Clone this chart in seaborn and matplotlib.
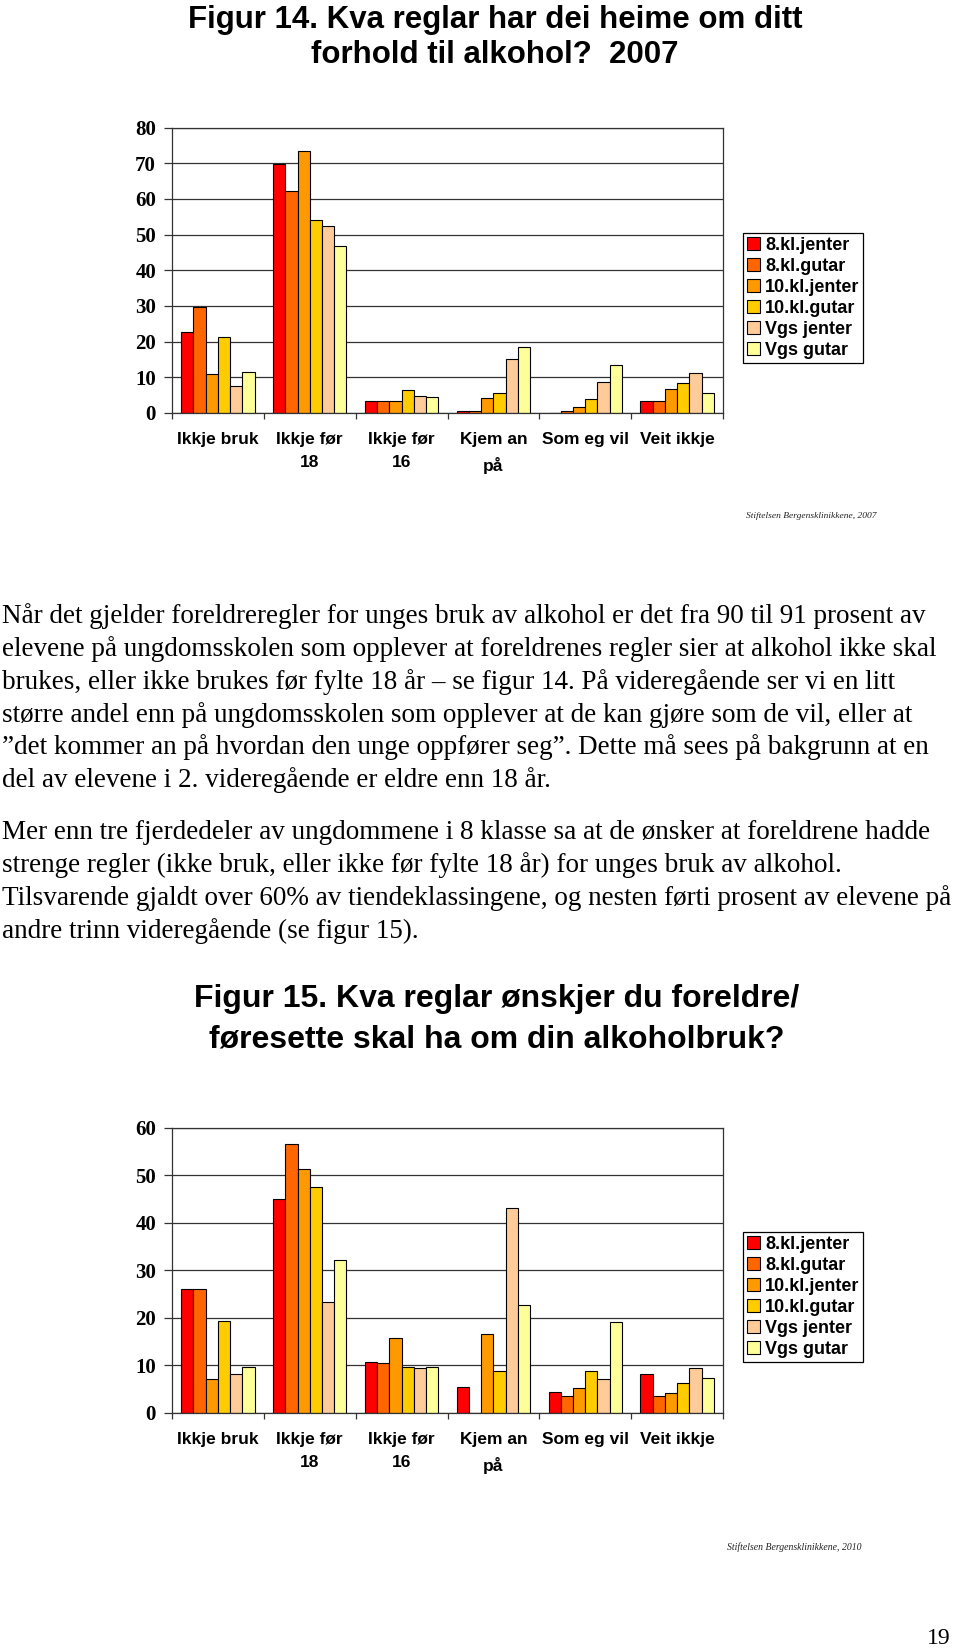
import matplotlib
matplotlib.use("Agg")
import matplotlib.pyplot as plt
import seaborn as sns
import pandas as pd
import numpy as np
from matplotlib.ticker import FixedLocator

# ---------------- data ----------------
categories = ["Ikkje bruk", "Ikkje før\n18", "Ikkje før\n16", "Kjem an\npå", "Som eg vil", "Veit ikkje"]
groups = ["8.kl.jenter", "8.kl.gutar", "10.kl.jenter", "10.kl.gutar", "Vgs jenter", "Vgs gutar"]
colors = ["#FF0000", "#FF6600", "#FF9900", "#FFCC00", "#FFCC99", "#FFFF99"]

# Figur 14 (2007)
f14_jenter8 = [22.6, 69.8, 3.3, 0.7, 0.0, 3.3]
f14_gutar8 = [29.7, 62.2, 3.3, 0.7, 0.7, 3.3]
f14_jenter10 = [10.8, 73.4, 3.3, 4.2, 1.8, 6.6]
f14_gutar10 = [21.3, 54.0, 6.5, 5.7, 3.8, 8.5]
f14_vgs_jenter = [7.6, 52.5, 4.9, 15.1, 8.7, 11.3]
f14_vgs_gutar = [11.5, 46.8, 4.6, 18.6, 13.4, 5.5]

# Figur 15
f15_jenter8 = [26.1, 44.9, 10.8, 5.5, 4.4, 8.2]
f15_gutar8 = [26.1, 56.5, 10.5, 0.0, 3.6, 3.6]
f15_jenter10 = [7.1, 51.3, 15.7, 16.5, 5.2, 4.3]
f15_gutar10 = [19.3, 47.5, 9.6, 8.9, 8.9, 6.2]
f15_vgs_jenter = [8.2, 23.3, 9.4, 43.1, 7.1, 9.4]
f15_vgs_gutar = [9.6, 32.1, 9.6, 22.6, 19.1, 7.3]

f14_yticks = [0, 10, 20, 30, 40, 50, 60, 70, 80]
f15_yticks = [0, 10, 20, 30, 40, 50, 60]

title14 = ["Figur 14. Kva reglar har dei heime om ditt", "forhold til alkohol?  2007"]
title15 = ["Figur 15. Kva reglar ønskjer du foreldre/", "føresette skal ha om din alkoholbruk?"]
source14 = "Stiftelsen Bergensklinikkene, 2007"
source15 = "Stiftelsen Bergensklinikkene, 2010"
page_no = "19"

para1 = [
    "Når det gjelder foreldreregler for unges bruk av alkohol er det fra 90 til 91 prosent av",
    "elevene på ungdomsskolen som opplever at foreldrenes regler sier at alkohol ikke skal",
    "brukes, eller ikke brukes før fylte 18 år – se figur 14. På videregående ser vi en litt",
    "større andel enn på ungdomsskolen som opplever at de kan gjøre som de vil, eller at",
    "”det kommer an på hvordan den unge oppfører seg”. Dette må sees på bakgrunn at en",
    "del av elevene i 2. videregående er eldre enn 18 år.",
]
para2 = [
    "Mer enn tre fjerdedeler av ungdommene i 8 klasse sa at de ønsker at foreldrene hadde",
    "strenge regler (ikke bruk, eller ikke før fylte 18 år) for unges bruk av alkohol.",
    "Tilsvarende gjaldt over 60% av tiendeklassingene, og nesten førti prosent av elevene på",
    "andre trinn videregående (se figur 15).",
]


def long_df(series):
    rows = []
    for g, vals in zip(groups, series):
        for c, v in zip(categories, vals):
            rows.append({"category": c, "group": g, "value": v})
    return pd.DataFrame(rows)


df14 = long_df([f14_jenter8, f14_gutar8, f14_jenter10, f14_gutar10, f14_vgs_jenter, f14_vgs_gutar])
df15 = long_df([f15_jenter8, f15_gutar8, f15_jenter10, f15_gutar10, f15_vgs_jenter, f15_vgs_gutar])

# ---------------- figure ----------------
sns.set_theme(style="white")
plt.rcParams["font.family"] = ["Liberation Sans", "DejaVu Sans"]
plt.rcParams["text.color"] = "black"

W, H = 960, 1652
fig = plt.figure(figsize=(W / 100, H / 100), dpi=100)
fig.patch.set_facecolor("white")


def fx(x):
    return x / W


def fy(y):
    return 1 - y / H


def make_axes(left, top, right, bottom):
    return fig.add_axes([fx(left), fy(bottom), (right - left) / W, (bottom - top) / H])


SANS_B = dict(family=["Liberation Sans", "DejaVu Sans"], weight="bold")
SERIF = ["Liberation Serif", "DejaVu Serif"]


def draw_chart(ax, df, yticks, legend_xy):
    sns.barplot(data=df, x="category", y="value", hue="group", palette=colors,
                order=categories, hue_order=groups, saturation=1, width=0.8,
                edgecolor="black", linewidth=0.8, errorbar=None, ax=ax, legend=True)
    ax.set_xlim(-0.5, len(categories) - 0.5)
    ax.set_ylim(yticks[0], yticks[-1])
    ax.set_yticks(yticks)
    ax.set_yticklabels([str(t) for t in yticks], family=SERIF, weight="bold",
                       fontsize=15, color="black")
    ax.yaxis.grid(True, color="#333333", linewidth=0.9)
    ax.set_axisbelow(True)
    ax.set_xlabel("")
    ax.set_ylabel("")
    ax.tick_params(axis="y", which="major", direction="out", length=5.5, width=0.9,
                   color="#333333", pad=6, left=True)
    ax.tick_params(axis="x", which="major", length=0, pad=13.5)
    ax.xaxis.set_minor_locator(FixedLocator(np.arange(-0.5, len(categories), 1.0)))
    ax.tick_params(axis="x", which="minor", direction="out", length=4, width=0.9,
                   color="#333333", bottom=True)
    for lab in ax.get_xticklabels():
        lab.set_fontsize(12.5)
        lab.set_fontweight("bold")
        lab.set_color("black")
        lab.set_family(["Liberation Sans", "DejaVu Sans"])
        lab.set_linespacing(1.7)
    for s in ax.spines.values():
        s.set_visible(True)
        s.set_color("#333333")
        s.set_linewidth(0.9)
    sns.move_legend(ax, loc="upper left", bbox_to_anchor=(fx(legend_xy[0]), fy(legend_xy[1])),
                    bbox_transform=fig.transFigure, title=None, frameon=True, fancybox=False,
                    edgecolor="black", framealpha=1, borderaxespad=0,
                    prop={"family": "Liberation Sans", "weight": "bold", "size": 13},
                    handlelength=0.7, handleheight=0.7, handletextpad=0.3,
                    labelspacing=0.22, borderpad=0.22)
    leg = ax.get_legend()
    leg.get_frame().set_linewidth(0.9)
    for t in leg.get_texts():
        t.set_color("black")
    for h in leg.legend_handles:
        h.set_edgecolor("black")
        h.set_linewidth(0.8)


ax1 = make_axes(172, 127.5, 723, 413)
draw_chart(ax1, df14, f14_yticks, (743, 233))

ax2 = make_axes(172, 1127.5, 723, 1413)
draw_chart(ax2, df15, f15_yticks, (743, 1232))

# ---------------- page text ----------------
for txt, y in zip(title14, [20, 55]):
    fig.text(fx(495), fy(y), txt, ha="center", va="center", fontsize=22.5,
             color="black", **SANS_B)
for txt, y in zip(title15, [999.5, 1039]):
    fig.text(fx(497), fy(y), txt, ha="center", va="center", fontsize=23,
             color="black", **SANS_B)

fig.text(fx(811), fy(516), source14, ha="center", va="center", fontsize=6.8,
         family=SERIF, style="italic", color="#222222")
fig.text(fx(794), fy(1547), source15, ha="center", va="center", fontsize=7,
         family=SERIF, style="italic", color="#222222")
fig.text(fx(951), fy(1638), page_no, ha="right", va="center", fontsize=17,
         family=SERIF, color="black")

y0 = 616.5
for i, line in enumerate(para1):
    fig.text(fx(2), fy(y0 + i * 32.7), line, ha="left", va="center", fontsize=19.5,
             family=SERIF, color="black")
y0 = 832.5
for i, line in enumerate(para2):
    fig.text(fx(2), fy(y0 + i * 32.7), line, ha="left", va="center", fontsize=19.5,
             family=SERIF, color="black")

fig.savefig("out.png", dpi=100, facecolor="white")
